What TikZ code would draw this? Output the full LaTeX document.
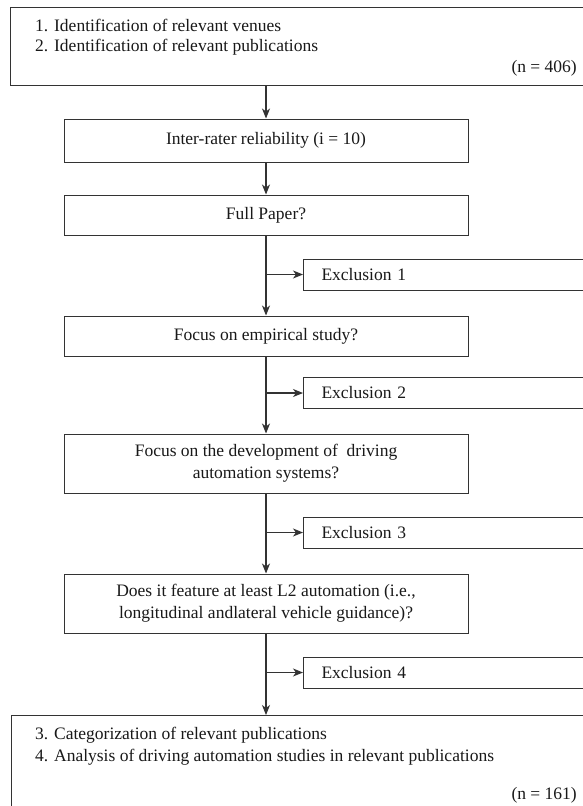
\documentclass[tikz,border=0pt]{standalone}
\usepackage{fontspec}
\setmainfont{Liberation Serif}
\usetikzlibrary{arrows.meta}
\definecolor{linegray}{HTML}{333333}
\begin{document}
\begin{tikzpicture}[x=1pt,y=-1pt,
  every node/.style={font=\fontsize{17.5}{22}\selectfont, text=black!90, inner sep=0pt},
  box/.style={draw=linegray, line width=1pt, minimum width=404pt, align=center},
  bigbox/.style={draw=linegray, line width=1pt, minimum width=580pt},
  exbox/.style={draw=linegray, line width=1pt, minimum width=290pt, minimum height=31pt, anchor=west, align=left, text width=254pt, inner xsep=18pt},
  flow/.style={draw=linegray, line width=1.1pt, -{Stealth[length=10pt,width=8pt,inset=3pt]}},
  txt/.style={anchor=west}
]
\clip (0,0) rectangle (583,806);
\fill[white] (0,0) rectangle (583,806);
% top box
\node[bigbox, minimum height=78pt, anchor=north west] (top) at (10,7) {};
\node[txt] (t1) at (35,25) {1. Identification of relevant venues};
\node[txt] (t2) at (35,47) {2. Identification of relevant publications};
\node[anchor=east] (n1) at (577,68) {(n = 406)};
% main boxes
\node[box, minimum height=43pt] (inter) at (266,140.5) {Inter-rater reliability (i = 10)};
\node[box, minimum height=40pt] (full) at (266,215) {Full Paper?};
\node[box, minimum height=40pt] (emp) at (266,336) {Focus on empirical study?};
\node[box, minimum height=59pt] (dev) at (266,463.5) {Focus on the development of\ \ driving\\automation systems?};
\node[box, minimum height=59pt] (does) at (266,603.5) {Does it feature at least L2 automation (i.e.,\\longitudinal andlateral vehicle guidance)?};
% bottom box
\node[bigbox, minimum height=105pt, anchor=north west] (bot) at (11,715) {};
\node[txt] (b1) at (35,735) {3. Categorization of relevant publications};
\node[txt] (b2) at (35,757) {4. Analysis of driving automation studies in relevant publications};
\node[anchor=east] (n2) at (577,795) {(n = 161)};
% exclusion boxes
\node[exbox] (ex1) at (303,274.5) {Exclusion 1};
\node[exbox] (ex2) at (303,393) {Exclusion 2};
\node[exbox] (ex3) at (303,532.5) {Exclusion 3};
\node[exbox] (ex4) at (303,672.5) {Exclusion 4};
% branch points
\coordinate (j1) at (266,274.5);
\coordinate (j2) at (266,393);
\coordinate (j3) at (266,532.5);
\coordinate (j4) at (266,672.5);
% connectors
\draw[flow] (top.south -| inter.north) -- (inter.north);
\draw[flow] (inter.south) -- (full.north);
\draw[flow] (full.south) -- (emp.north);
\draw[flow] (j1) -- (ex1.west);
\draw[flow] (emp.south) -- (dev.north);
\draw[flow] (j2) -- (ex2.west);
\draw[flow] (dev.south) -- (does.north);
\draw[flow] (j3) -- (ex3.west);
\draw[flow] (does.south) -- (bot.north -| does.south);
\draw[flow] (j4) -- (ex4.west);
\end{tikzpicture}
\end{document}
